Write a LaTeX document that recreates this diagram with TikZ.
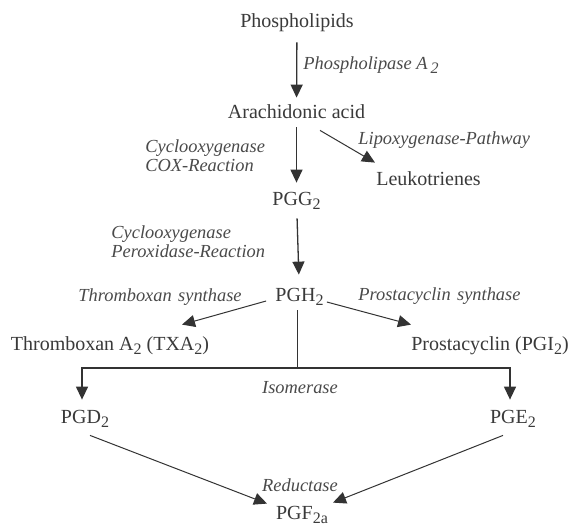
\documentclass[tikz,border=0pt]{standalone}
\usepackage{fontspec}
\setmainfont{Liberation Serif}
\usetikzlibrary{arrows.meta}
\newcommand{\subtx}[1]{\raisebox{-0.5ex}{\fontsize{8}{8}\selectfont #1}}
\definecolor{txt}{HTML}{3A3A3A}
\definecolor{lbl}{HTML}{4A4A4A}
\definecolor{ln}{HTML}{333333}
\begin{document}
\begin{tikzpicture}[x=0.5pt,y=-0.5pt,
  chem/.style={inner sep=0pt,text height=7pt,text depth=2pt,text=txt,font=\fontsize{10}{12}\selectfont},
  enz/.style={inner sep=0pt,text=lbl,font=\fontsize{9.2}{9.5}\selectfont\itshape},
  arr/.style={draw=ln,line width=0.65pt,-{Triangle[length=6.5pt,width=6pt]}},
  darr/.style={draw=ln,line width=0.5pt,-{Triangle[length=6.5pt,width=6pt]}},
  plain/.style={draw=ln,line width=0.5pt}]
\useasboundingbox (0,0) rectangle (573,526);
\fill[white] (0,0) rectangle (573,526);

% metabolites
\node[chem] (phos) at (297,22) {Phospholipids};
\node[chem] (ara) at (296.5,113) {Arachidonic acid};
\node[chem] (leuk) at (428.5,180) {Leukotrienes};
\node[chem] (pgg) at (296.5,200) {PGG\subtx{2}};
\node[chem] (pgh) at (299.5,296) {PGH\subtx{2}};
\node[chem] (txa) at (110,345) {Thromboxan A\subtx{2} (TXA\subtx{2})};
\node[chem] (pgi) at (490,345) {Prostacyclin (PGI\subtx{2})};
\node[chem] (pgd) at (85,418) {PGD\subtx{2}};
\node[chem] (pge) at (513,418) {PGE\subtx{2}};
\node[chem] (pgf) at (302,514) {PGF\subtx{2a}};

% enzymes
\node[enz,anchor=west] (pla) at (303,65) {Phospholipase A\,\subtx{2}};
\node[enz,anchor=west] (lox) at (358,140) {Lipoxygenase-Pathway};
\node[enz,anchor=west,align=left] (cox) at (145,155.5) {Cyclooxygenase\\COX-Reaction};
\node[enz,anchor=west,align=left] (pox) at (111,242) {Cyclooxygenase\\Peroxidase-Reaction};
\node[enz,anchor=east] (txs) at (242,297) {Thromboxan\hspace{0.35em}synthase};
\node[enz,anchor=west] (pcs) at (358,296) {Prostacyclin\hspace{0.35em}synthase};
\node[enz] (iso) at (300,388) {Isomerase};
\node[enz] (red) at (300,485) {Reductase};

% connectors
\draw[arr,shorten <=5.5pt,shorten >=3pt] (phos) -- (ara);
\draw[arr,shorten <=2.5pt,shorten >=4pt] (ara) -- (pgg);
\draw[darr] ([shift={(23.5,8)}]ara.south) -- ([shift={(-53.5,-8)}]leuk.north);
\draw[arr,shorten <=4.5pt,shorten >=6pt] (pgg) -- (pgh);
\draw[darr] ([shift={(-9,5)}]pgh.west) -- ([shift={(72,-11)}]txa.north);
\draw[darr] ([shift={(3,6)}]pgh.east) -- ([shift={(-79,-11)}]pgi.north);
\coordinate (br) at (297,368);
\draw[plain] ([shift={(-2.5,5)}]pgh.south) -- (br);
\draw[arr,shorten >=4.5pt] (br) -| ([xshift=-1.5pt]pgd.north);
\draw[arr,shorten >=4.5pt] (br) -| ([xshift=-1.5pt]pge.north);
\draw[darr] ([shift={(5,8)}]pgd.south) -- ([shift={(-35,-1)}]pgf.north);
\draw[darr] ([shift={(-10,8)}]pge.south) -- ([shift={(31,-2)}]pgf.north);
\end{tikzpicture}
\end{document}
